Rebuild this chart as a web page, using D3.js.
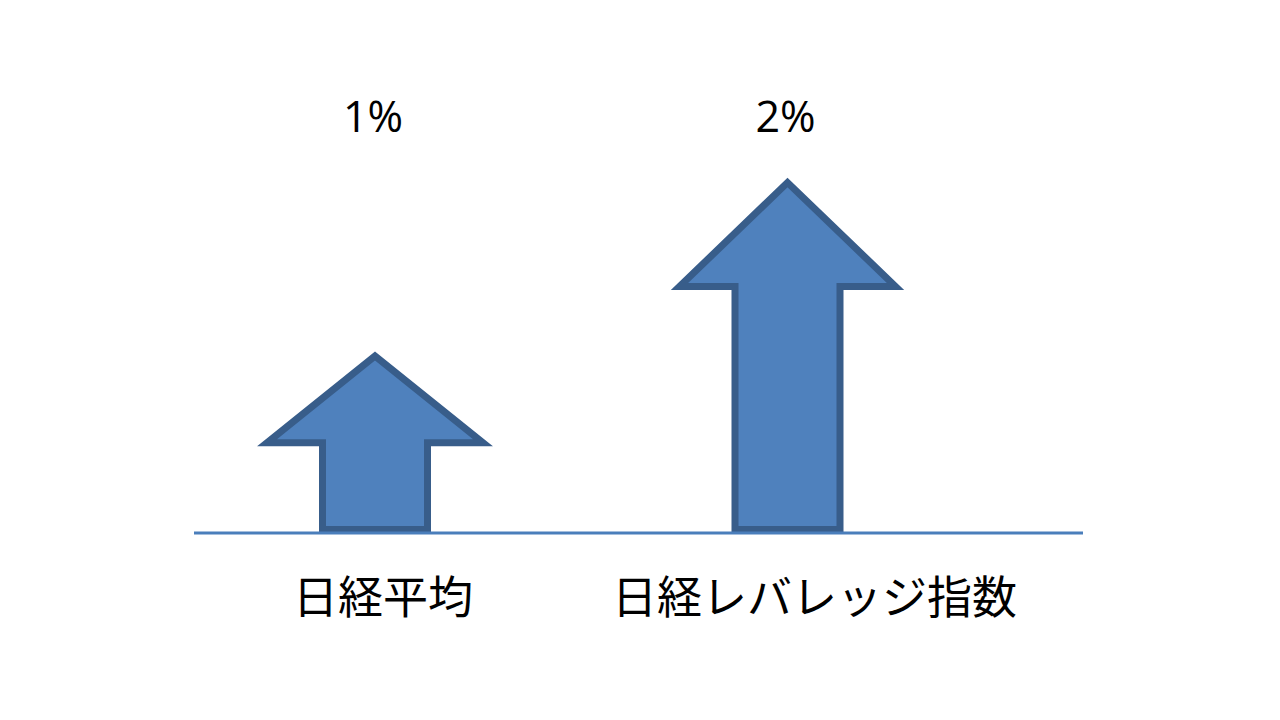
<!DOCTYPE html>
<html>
<head>
<meta charset="utf-8">
<script src="https://cdn.jsdelivr.net/npm/d3@7/dist/d3.min.js"></script>
<style>
  html, body { margin: 0; padding: 0; background: #ffffff; }
  svg { display: block; }
</style>
</head>
<body>
<svg id="chart" width="1280" height="720"></svg>
<script>
// ---- data ----
const categories = ["日経平均", "日経レバレッジ指数"];
const values = [1, 2];              // percent change
const valueLabels = ["1%", "2%"];

// ---- layout ----
const W = 1280, H = 720;
const svg = d3.select("#chart");

const x = d3.scalePoint().domain(categories).range([375, 787.5]);
const y = d3.scaleLinear().domain([0, 2]).range([529.5, 182.5]);

const shaftHalf = 52.5;
const headHalf = 108;
const fill = "#4F81BD", stroke = "#385D8A";

function arrowPath(cx, v) {
  const base = y(0), tip = y(v);
  const len = base - tip;
  const headH = Math.min(len * 0.5, 104);
  const hb = tip + headH;
  return [
    [cx - shaftHalf, base],
    [cx - shaftHalf, hb],
    [cx - headHalf, hb],
    [cx, tip],
    [cx + headHalf, hb],
    [cx + shaftHalf, hb],
    [cx + shaftHalf, base]
  ].map(p => p.join(",")).join(" ");
}

const data = categories.map((c, i) => ({ c, v: values[i], label: valueLabels[i] }));

svg.selectAll("polygon.arrow")
  .data(data)
  .join("polygon")
  .attr("class", "arrow")
  .attr("points", d => arrowPath(x(d.c), d.v))
  .attr("fill", fill)
  .attr("stroke", stroke)
  .attr("stroke-width", 7)
  .attr("stroke-linejoin", "miter")
  .attr("stroke-miterlimit", 10);

// baseline
svg.append("line")
  .attr("x1", 194).attr("x2", 1083)
  .attr("y1", y(0) + 3.5).attr("y2", y(0) + 3.5)
  .attr("stroke", "#4A7EBB")
  .attr("stroke-width", 3);

// value labels
svg.selectAll("text.val")
  .data(data)
  .join("text")
  .attr("class", "val")
  .attr("x", d => x(d.c) - 2)
  .attr("y", 132)
  .attr("text-anchor", "middle")
  .attr("font-family", "'Open Sans', 'Liberation Sans', sans-serif")
  .attr("font-size", 43)
  .attr("fill", "#000")
  .text(d => d.label);

// category labels
const labelShift = [8, 27];
svg.selectAll("text.cat")
  .data(data)
  .join("text")
  .attr("class", "cat")
  .attr("x", (d, i) => x(d.c) + labelShift[i])
  .attr("y", 614)
  .attr("text-anchor", "middle")
  .attr("font-family", "'Noto Sans CJK JP', sans-serif")
  .attr("font-size", 45)
  .attr("fill", "#000")
  .text(d => d.c);
</script>
</body>
</html>
